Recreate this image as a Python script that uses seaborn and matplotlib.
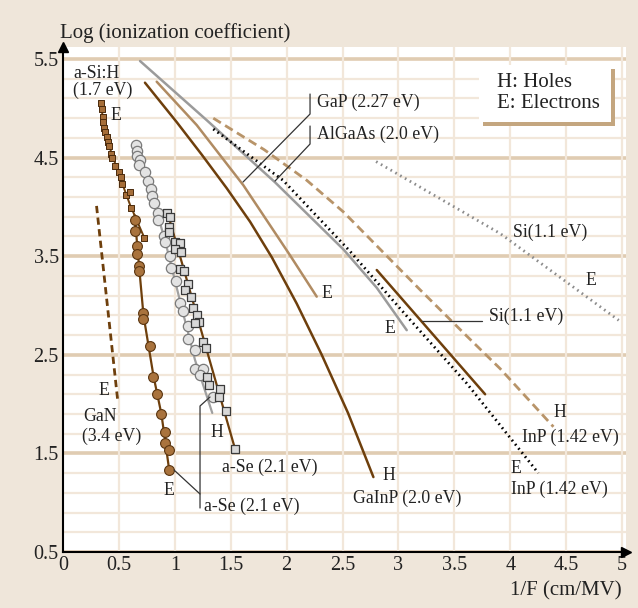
import numpy as np
import pandas as pd
import matplotlib
matplotlib.use("Agg")
import matplotlib.pyplot as plt
import seaborn as sns
from matplotlib.patches import Rectangle

# ---------------- data ----------------
# a-Si:H electrons (small brown squares)
asih_x = [0.337, 0.346, 0.355, 0.358, 0.367, 0.376, 0.391, 0.400, 0.411, 0.426,
          0.435, 0.465, 0.501, 0.516, 0.528, 0.561, 0.599, 0.606, 0.725]
asih_y = [5.05, 4.99, 4.91, 4.86, 4.80, 4.76, 4.71, 4.66, 4.62, 4.54,
          4.50, 4.42, 4.35, 4.30, 4.23, 4.12, 4.15, 3.99, 3.68]
asih_line_x = [0.33, 0.40, 0.50, 0.60, 0.73]
asih_line_y = [5.07, 4.66, 4.33, 4.02, 3.68]

# a-Se electrons (brown circles)
ase_e_x = [0.647, 0.647, 0.659, 0.665, 0.680, 0.680, 0.718, 0.718, 0.778, 0.808,
           0.843, 0.877, 0.912, 0.912, 0.948, 0.948]
ase_e_y = [3.87, 3.76, 3.60, 3.52, 3.40, 3.35, 2.92, 2.86, 2.59, 2.28,
           2.10, 1.90, 1.72, 1.61, 1.53, 1.33]
ase_e_line_x = [0.64, 0.68, 0.72, 0.81, 0.88, 0.95]
ase_e_line_y = [3.92, 3.40, 2.90, 2.28, 1.90, 1.33]

# a-Se holes (light grey circles)
ase_hc_x = [0.653, 0.665, 0.665, 0.689, 0.682, 0.733, 0.763, 0.784, 0.793, 0.817,
            0.852, 0.852, 0.903, 0.912, 0.957, 0.966, 1.011, 1.047, 1.071, 1.121,
            1.121, 1.181, 1.181, 1.255, 1.225, 1.339]
ase_hc_y = [4.63, 4.57, 4.52, 4.48, 4.43, 4.35, 4.26, 4.18, 4.11, 4.04,
            3.94, 3.87, 3.70, 3.64, 3.50, 3.38, 3.25, 3.03, 2.94, 2.79,
            2.66, 2.55, 2.36, 2.36, 2.30, 2.07]
ase_hc_line_x = [0.65, 0.78, 0.91, 1.05, 1.18, 1.335]
ase_hc_line_y = [4.63, 4.18, 3.67, 3.03, 2.45, 1.91]

# a-Se holes (grey squares)
ase_hs_x = [0.933, 0.957, 0.951, 0.951, 1.002, 1.047, 1.002, 1.053, 1.047, 1.085,
            1.121, 1.091, 1.142, 1.165, 1.201, 1.219, 1.181, 1.250, 1.279, 1.291,
            1.309, 1.404, 1.398, 1.458, 1.536]
ase_hs_y = [3.94, 3.90, 3.80, 3.75, 3.64, 3.63, 3.57, 3.54, 3.37, 3.35,
            3.22, 3.16, 3.09, 2.97, 2.90, 2.83, 2.82, 2.63, 2.57, 2.28,
            2.19, 2.15, 2.07, 1.93, 1.54]
ase_hs_line_x = [0.93, 1.12, 1.30, 1.54]
ase_hs_line_y = [3.96, 3.21, 2.49, 1.54]

# GaN electrons (dashed)
gan_x = [0.30, 0.49]
gan_y = [4.01, 2.03]

# AlGaAs electrons (grey)
algaas_x = [0.689, 1.285, 1.896, 2.507, 2.806, 3.074]
algaas_y = [5.48, 4.88, 4.25, 3.57, 3.18, 2.75]

# GaP electrons (light brown)
gap_x = [0.838, 1.196, 1.613, 2.030, 2.269]
gap_y = [5.27, 4.83, 4.22, 3.51, 3.09]

# GaInP holes (dark brown)
gainp_x = [0.733, 1.017, 1.241, 1.464, 1.673, 1.867, 2.09, 2.314, 2.549, 2.776]
gainp_y = [5.26, 4.86, 4.53, 4.19, 3.85, 3.49, 3.02, 2.50, 1.91, 1.26]

# InP electrons (black dotted)
inp_e_x = [1.344, 1.968, 2.567, 3.014, 3.611, 4.251]
inp_e_y = [4.79, 4.27, 3.55, 2.97, 2.21, 1.30]

# InP holes (tan dashed)
inp_h_x = [1.344, 1.80, 2.18, 2.507, 3.193, 3.611, 3.909, 4.386]
inp_h_y = [4.90, 4.58, 4.27, 3.95, 3.16, 2.69, 2.36, 1.77]

# Si holes (dark brown short)
si_h_x = [2.806, 3.775]
si_h_y = [3.36, 2.10]

# Si electrons (grey dotted)
si_e_x = [2.80, 3.91, 4.97]
si_e_y = [4.46, 3.73, 2.85]

x_ticks = [0, 0.5, 1, 1.5, 2, 2.5, 3, 3.5, 4, 4.5, 5]
x_tick_labels = ["0", "0.5", "1", "1.5", "2", "2.5", "3", "3.5", "4", "4.5", "5"]
y_ticks = [0.5, 1.5, 2.5, 3.5, 4.5, 5.5]
y_tick_labels = ["0.5", "1.5", "2.5", "3.5", "4.5", "5.5"]

# ---------------- style ----------------
sns.set_theme(style="white")
plt.rcParams["font.family"] = ["Liberation Serif", "DejaVu Serif"]

BG = "#efe6da"
DARK = "#6e3f0c"
TAN = "#b08b62"
TAN_D = "#b89469"
GREY = "#9b9b9b"
GRID_MAJ = "#e0ccb2"
GRID_MIN = "#f2e7da"
TXT = "#222222"

fig = plt.figure(figsize=(6.38, 6.08), dpi=100, facecolor=BG)
ax = fig.add_axes([63 / 638, 56 / 608, 563 / 638, 505 / 608])
ax.set_facecolor("white")
ax.set_xlim(0, 5.035)
ax.set_ylim(0.5, 5.622)

# grid
ax.set_xticks(x_ticks)
ax.set_xticklabels(x_tick_labels, fontsize=14.5, color=TXT)
ax.set_yticks(y_ticks)
ax.set_yticklabels(y_tick_labels, fontsize=14.5, color=TXT)
ax.tick_params(axis="both", which="both", length=0, pad=3)
for v in np.arange(0.7, 5.5, 0.2):
    ax.axhline(v, color=GRID_MIN, lw=1.6, zorder=0)
for v in y_ticks:
    ax.axhline(v, color=GRID_MAJ, lw=2.6, zorder=0)
for v in x_ticks[1:]:
    ax.axvline(v, color=GRID_MIN, lw=1.6, zorder=0)

for s in ["top", "right"]:
    ax.spines[s].set_visible(False)
for s in ["left", "bottom"]:
    ax.spines[s].set_color("black")
    ax.spines[s].set_linewidth(1.5)
    ax.spines[s].set_zorder(5)
# axis arrows
ax.plot(0, 1, marker="^", ms=7, color="black", transform=ax.transAxes, clip_on=False, zorder=6)
ax.plot(1, 0, marker=">", ms=7, color="black", transform=ax.transAxes, clip_on=False, zorder=6)


def line(xs, ys, color, lw=1.8, ls="-", z=2):
    df = pd.DataFrame({"x": xs, "y": ys})
    sns.lineplot(data=df, x="x", y="y", sort=False, estimator=None, ax=ax,
                 color=color, lw=lw, linestyle=ls, zorder=z)


line(gan_x, gan_y, DARK, lw=2.0, ls=(0, (2.6, 1.6)))
line(algaas_x, algaas_y, GREY, lw=1.8)
line(gap_x, gap_y, TAN, lw=1.8)
line(gainp_x, gainp_y, DARK, lw=1.8)
line(inp_e_x, inp_e_y, "black", lw=2.0, ls=(0, (0.6, 1.3)))
line(inp_h_x, inp_h_y, TAN_D, lw=2.0, ls=(0, (3.2, 1.8)))
line(si_h_x, si_h_y, DARK, lw=1.8)
line(si_e_x, si_e_y, "#8c8c8c", lw=2.0, ls=(0, (0.6, 1.4)))

line(asih_line_x, asih_line_y, DARK, lw=1.4, z=3)
line(ase_e_line_x, ase_e_line_y, DARK, lw=1.6, z=3)
line(ase_hc_line_x, ase_hc_line_y, "#a0a0a0", lw=1.6, z=3)
line(ase_hs_line_x, ase_hs_line_y, DARK, lw=1.6, z=3)

sns.scatterplot(x=ase_hc_x, y=ase_hc_y, ax=ax, s=55, marker="o",
                color="#e3e3e3", edgecolor="#7a7a7a", linewidth=0.9, zorder=4)
sns.scatterplot(x=ase_hs_x, y=ase_hs_y, ax=ax, s=40, marker="s",
                color="#d8d8d8", edgecolor="#3a3a3a", linewidth=0.9, zorder=4)
sns.scatterplot(x=ase_e_x, y=ase_e_y, ax=ax, s=50, marker="o",
                color="#a9733d", edgecolor="#5a3510", linewidth=0.8, zorder=4)
sns.scatterplot(x=asih_x, y=asih_y, ax=ax, s=16, marker="s",
                color="#a56d38", edgecolor="#4a2a0c", linewidth=0.7, zorder=4)

# ---------------- texts ----------------
FS = 12.8


def px(xp, yp):
    return ((xp - 63) / 111.8, 5.5 - (yp - 59) / 98.6)


def t(xp, yp, s, ha="left", fs=FS):
    x, y = px(xp, yp)
    ax.text(x, y, s, ha=ha, va="center", fontsize=fs, color=TXT, zorder=7)


def leader(pts, color="#333333"):
    xy = [px(a, b) for a, b in pts]
    ax.plot([p[0] for p in xy], [p[1] for p in xy], color=color, lw=0.9, zorder=6)


t(73, 73, "a-Si:H")
t(73, 90, "(1.7 eV)")
t(110, 115, "E")
t(317, 102, "GaP (2.27 eV)")
t(317, 134, "AlGaAs (2.0 eV)")
leader([(310, 94), (310, 114), (243, 182)])
leader([(310, 126), (310, 144), (275, 181)])
t(321, 293, "E")
t(384, 328, "E")
t(513, 232, "Si(1.1 eV)")
t(585, 280, "E")
t(489, 316, "Si(1.1 eV)")
leader([(422, 321), (482, 321)])
t(553, 412, "H")
t(522, 437, "InP (1.42 eV)")
t(510, 468, "E")
t(511, 489, "InP (1.42 eV)")
t(382, 475, "H")
t(353, 498, "GaInP (2.0 eV)")
t(210, 432, "H")
t(222, 467, "a-Se (2.1 eV)")
t(163, 490, "E")
t(204, 506, "a-Se (2.1 eV)")
leader([(210, 397), (200, 406), (200, 508)])
leader([(200, 494), (174, 470)])
t(98, 390, "E")
t(83, 416, "GaN")
t(82, 436, "(3.4 eV)")

# legend box with shadow
x0, y1 = px(479, 65)
x1, y0 = px(611, 122)
sx, sy = 4 / 111.8, 4 / 98.6
ax.add_patch(Rectangle((x0 + sx, y0 - sy), x1 - x0, y1 - y0, facecolor="#c4a67f",
                       edgecolor="none", zorder=7))
ax.add_patch(Rectangle((x0, y0), x1 - x0, y1 - y0, facecolor="white",
                       edgecolor="none", zorder=8))
hx, hy = px(497, 82)
ax.text(hx, hy, "H: Holes", fontsize=15, va="center", color=TXT, zorder=9)
hx, hy = px(497, 103)
ax.text(hx, hy, "E: Electrons", fontsize=15, va="center", color=TXT, zorder=9)

ax.set_xlabel("")
ax.set_ylabel("")
fig.text(60 / 638, 1 - 33 / 608, "Log (ionization coefficient)", fontsize=15,
         ha="left", va="center", color=TXT)
fig.text(622 / 638, 1 - 591 / 608, "1/F (cm/MV)", fontsize=15,
         ha="right", va="center", color=TXT)

fig.savefig("out.png", dpi=100, facecolor=BG)
